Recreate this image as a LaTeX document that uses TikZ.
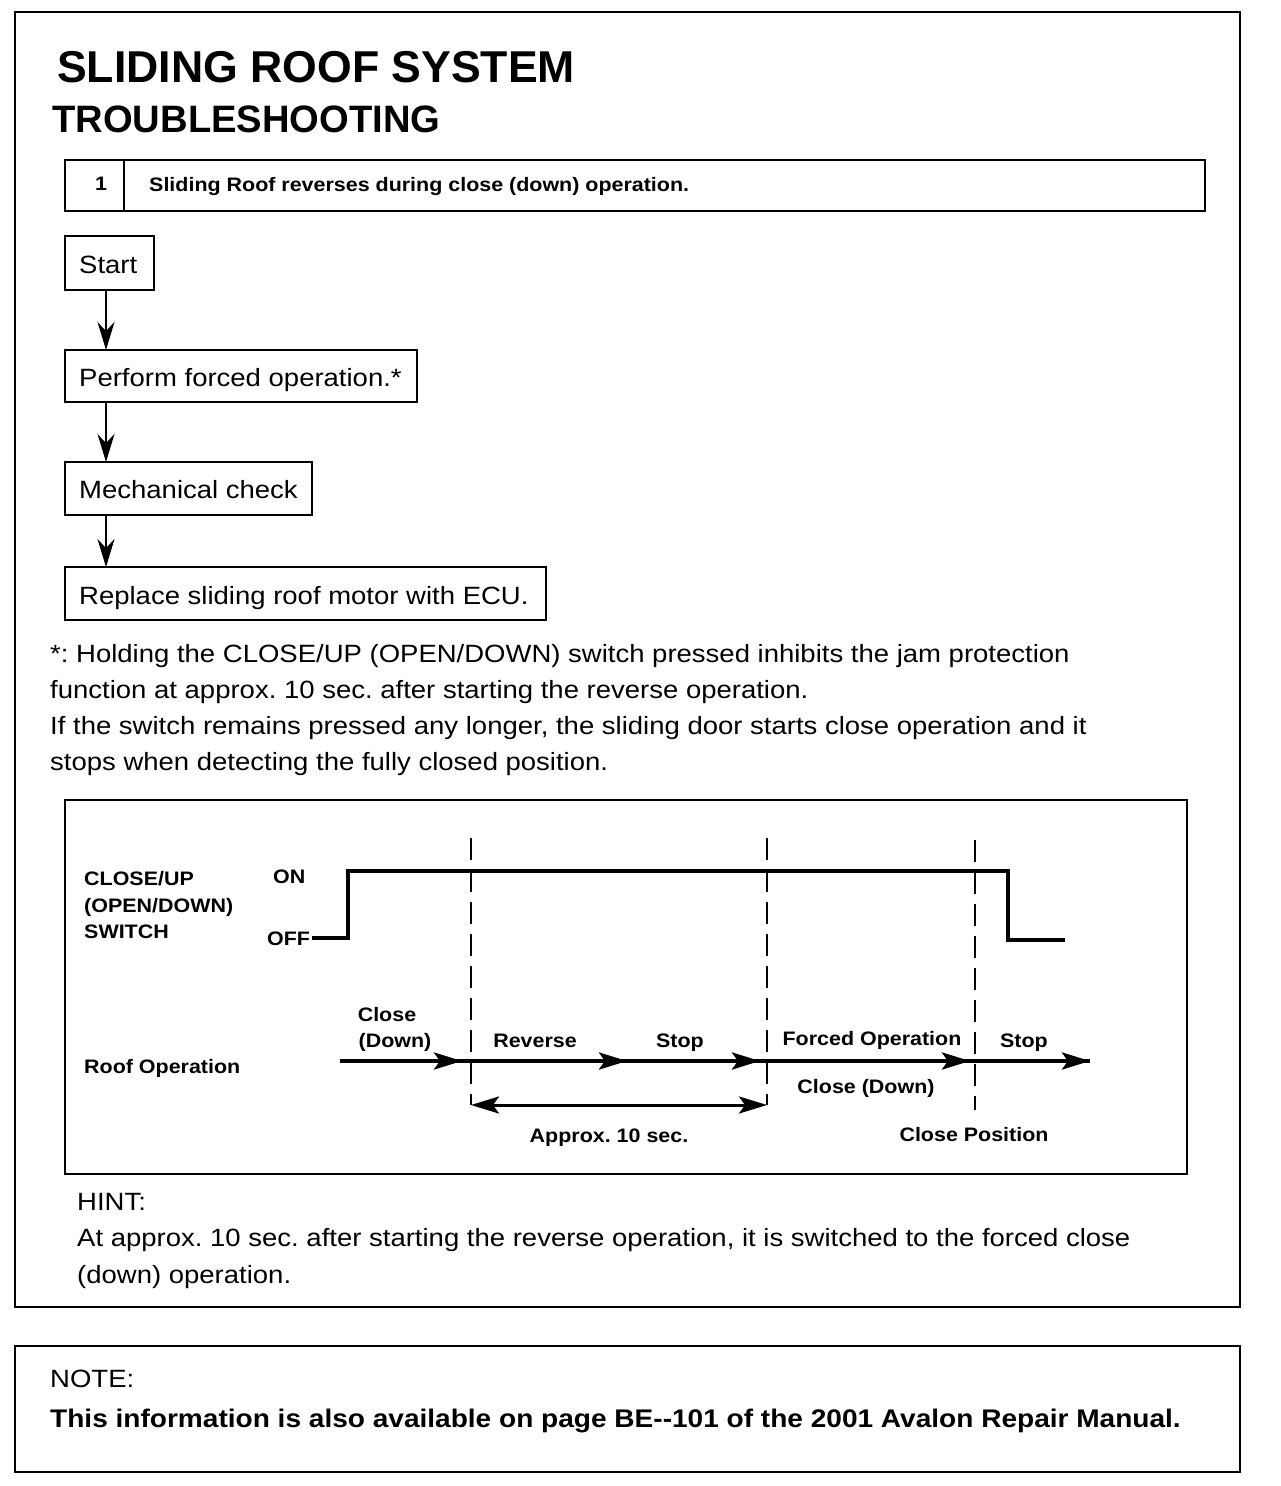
\documentclass[tikz,border=0pt]{standalone}
\usepackage{fontspec}
\setmainfont{Liberation Sans}
\newfontfamily\widefont[FakeStretch=1.1]{Liberation Sans}
\usetikzlibrary{arrows.meta}
\begin{document}
\frenchspacing
\begin{tikzpicture}[x=1pt,y=-1pt,
  frame/.style={draw,line width=2.6pt},
  body/.style={font=\widefont\fontsize{25}{28}\selectfont,inner sep=0pt,anchor=base west},
  small/.style={font=\widefont\bfseries\fontsize{19.5}{22}\selectfont,inner sep=0pt},
  flowarrow/.style={line width=2pt,-{Stealth[length=28pt,width=17pt]}},
  sig/.style={line width=4pt},
  vdash/.style={line width=2pt,dash pattern=on 22pt off 10pt},
  optip/.style={-{Stealth[length=28pt,width=17pt,inset=6pt]}},
  opline/.style={line width=4pt}]
\useasboundingbox (0,0) rectangle (1280,1486);
\fill[white] (0,0) rectangle (1280,1486);
% outer frames
\draw[frame] (15,12) rectangle (1240,1307);
\draw[frame] (15,1346) rectangle (1240,1472);
% titles
\node[inner sep=0pt,anchor=base west,font=\bfseries\fontsize{44.6}{50}\selectfont] (t1) at (57,82) {SLIDING ROOF SYSTEM};
\node[inner sep=0pt,anchor=base west,font=\bfseries\fontsize{38.2}{44}\selectfont] (t2) at (52,132) {TROUBLESHOOTING};
% step box
\draw[frame] (65,160) rectangle (1205,211);
\draw[frame] (124,160) -- (124,211);
\node[small,anchor=center] (num) at (101,184) {1};
\node[small,anchor=base west] (step) at (149,191) {Sliding Roof reverses during close (down) operation.};
% flowchart
\draw[frame] (65,236) rectangle (154,290);
\node[body] (start) at (79,273) {Start};
\coordinate (b1) at (106,290);
\coordinate (b2t) at (106,350);
\draw[frame] (65,350) rectangle (417,402);
\node[body] (perf) at (79,386) {Perform forced operation.*};
\coordinate (b2) at (106,402);
\coordinate (b3t) at (106,462);
\draw[frame] (65,462) rectangle (312,515);
\node[body] (mech) at (79,498) {Mechanical check};
\coordinate (b3) at (106,515);
\coordinate (b4t) at (106,567);
\draw[frame] (65,567) rectangle (546,620);
\node[body] (repl) at (79,604) {Replace sliding roof motor with ECU.};
\draw[flowarrow] (b1) -- (b2t);
\draw[flowarrow] (b2) -- (b3t);
\draw[flowarrow] (b3) -- (b4t);
% footnote
\node[body] (f1) at (50,662) {*: Holding the CLOSE/UP (OPEN/DOWN) switch pressed inhibits the jam protection};
\node[body] (f2) at (50,698) {function at approx. 10 sec. after starting the reverse operation.};
\node[body] (f3) at (50,734) {If the switch remains pressed any longer, the sliding door starts close operation and it};
\node[body] (f4) at (50,770) {stops when detecting the fully closed position.};
% timing box
\draw[frame] (65,800) rectangle (1187,1174);
\node[small,anchor=base west] (l1) at (84,885) {CLOSE/UP};
\node[small,anchor=base west] (l2) at (84,912) {(OPEN/DOWN)};
\node[small,anchor=base west] (l3) at (84,938) {SWITCH};
\node[small,anchor=base west] (on) at (273,883) {ON};
\node[small,anchor=base west] (off) at (267,945) {OFF};
\node[small,anchor=base west] (ro) at (84,1073) {Roof Operation};
% signal
\coordinate (s0) at (312,938);
\coordinate (s1) at (348,938);
\coordinate (s2) at (348,871);
\coordinate (s3) at (1008,871);
\coordinate (s4) at (1008,940);
\coordinate (s5) at (1065,940);
\draw[sig] (s0) -- (s1) -- (s2) -- (s3) -- (s4) -- (s5);
% dashed verticals
\coordinate (d1t) at (471,838); \coordinate (d1b) at (471,1105);
\coordinate (d2t) at (767,838); \coordinate (d2b) at (767,1105);
\coordinate (d3t) at (975,840); \coordinate (d3b) at (975,1110);
\draw[vdash] (d1t) -- (d1b);
\draw[vdash] (d2t) -- (d2b);
\draw[vdash] (d3t) -- (d3b);
% roof operation line
\coordinate (r0) at (340,1061);
\coordinate (r1) at (462,1061);
\coordinate (r2) at (627,1061);
\coordinate (r3) at (760,1061);
\coordinate (r4) at (970,1061);
\coordinate (r5) at (1090,1061);
\draw[opline] (r0) -- (r5);
\foreach \a/\b in {r0/r1,r1/r2,r2/r3,r3/r4,r4/r5}
  \draw[opline,optip] (\a) -- (\b);
% bracket
\coordinate (k1) at (471,1105);
\coordinate (k2) at (767,1105);
\draw[line width=3pt,{Stealth[length=28pt,width=17pt,inset=6pt]}-{Stealth[length=28pt,width=17pt,inset=6pt]}] (k1) -- (k2);
% labels
\node[small,anchor=base] (lc) at (387,1021) {Close};
\node[small,anchor=base] (ld) at (395,1047) {(Down)};
\node[small,anchor=base] (lr) at (535,1047) {Reverse};
\node[small,anchor=base] (ls) at (680,1047) {Stop};
\node[small,anchor=base] (lf) at (872,1045) {Forced Operation};
\node[small,anchor=base] (ls2) at (1024,1047) {Stop};
\node[small,anchor=base] (lcd) at (866,1093) {Close (Down)};
\node[small,anchor=base] (la) at (609,1142) {Approx. 10 sec.};
\node[small,anchor=base] (lp) at (974,1141) {Close Position};
% hint
\node[body] (h0) at (77,1210) {HINT:};
\node[body] (h1) at (77,1246) {At approx. 10 sec. after starting the reverse operation, it is switched to the forced close};
\node[body] (h2) at (77,1283) {(down) operation.};
% note
\node[body] (n0) at (50,1387) {NOTE:};
\node[body,font=\widefont\bfseries\fontsize{25.5}{28}\selectfont] (n1) at (50,1427) {This information is also available on page BE-{}-101 of the 2001 Avalon Repair Manual.};
\end{tikzpicture}
\end{document}
